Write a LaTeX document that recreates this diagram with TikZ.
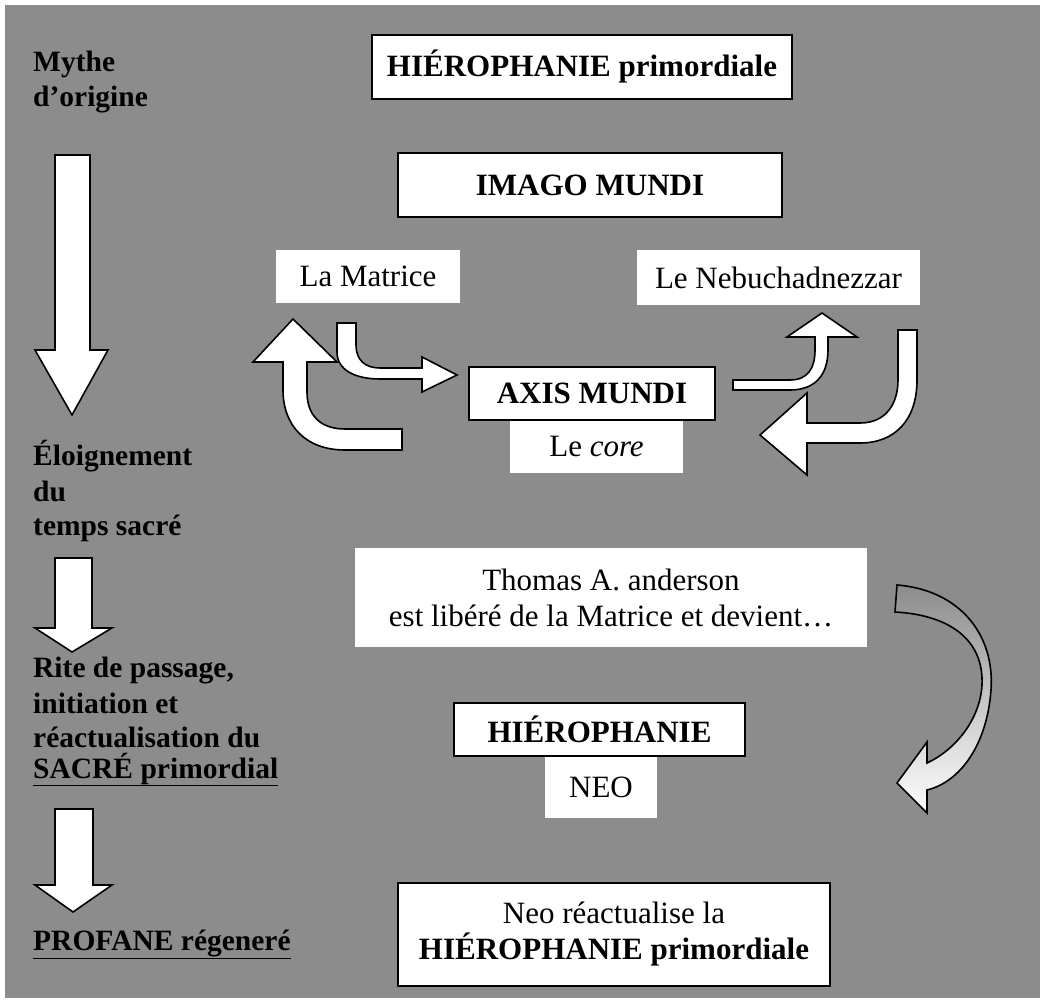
\documentclass[tikz,border=0pt]{standalone}
\usepackage{fontspec}
\setmainfont{Liberation Serif}
\definecolor{bggray}{gray}{0.55}
\tikzset{
  bx/.style={draw=black, line width=1.6pt, fill=white, inner sep=0pt, align=center},
  wbx/.style={fill=white, inner sep=0pt, align=center},
  big/.style={font=\fontsize{31}{36}\selectfont},
  lefttxt/.style={anchor=base west, inner sep=0pt, font=\fontsize{29.5}{35}\selectfont\bfseries},
  blockarrow/.style={fill=white, draw=black, line width=1.6pt, line join=miter},
}
\begin{document}
\begin{tikzpicture}[x=1pt,y=-1pt]
\useasboundingbox (0,0) rectangle (1045,1003);
\fill[white] (0,0) rectangle (1045,1003);
\fill[bggray] (5,5) rectangle (1040,998);

% left column
\node[lefttxt] (myth1) at (33,72) {Mythe};
\node[lefttxt] (myth2) at (33,107) {d’origine};
\path[blockarrow] (55,155) -- (90,155) -- (90,350) -- (108,350) -- (72,415) -- (35,350) -- (55,350) -- cycle;
\node[lefttxt] (eloi1) at (33,465) {Éloignement};
\node[lefttxt] (eloi2) at (33,501) {du};
\node[lefttxt] (eloi3) at (33,535) {temps sacré};
\path[blockarrow] (55,558) -- (92,558) -- (92,628) -- (112,628) -- (72,652) -- (35,628) -- (55,628) -- cycle;
\node[lefttxt] (rite1) at (33,677) {Rite de passage,};
\node[lefttxt] (rite2) at (33,713) {initiation et};
\node[lefttxt] (rite3) at (33,747) {réactualisation du};
\node[lefttxt] (rite4) at (33,778) {\underline{SACRÉ primordial}};
\path[blockarrow] (55,809) -- (93,809) -- (93,885) -- (112,885) -- (73,912) -- (35,885) -- (55,885) -- cycle;
\node[lefttxt] (prof) at (33,950) {\underline{PROFANE régeneré}};

% white label boxes
\node[wbx, big, minimum width=184pt, minimum height=53pt] (matrice) at (368,276.5) {La Matrice};
\node[wbx, big, minimum width=283pt, minimum height=55pt] (nebu) at (778.5,277.5) {Le Nebuchadnezzar};
\node[wbx, big, minimum width=173pt, minimum height=53pt] (core) at (596.5,446.5) {Le \textit{core}};
\node[wbx, big, minimum width=512pt, minimum height=99pt] (thomas) at (611,597.5) {Thomas A. anderson\\est libéré de la Matrice et devient…};
\node[wbx, big, minimum width=112pt, minimum height=62pt] (neo) at (601,787) {NEO};

% bordered boxes
\node[bx, big, minimum width=420pt, minimum height=64pt] (hiero1) at (582,67) {\textbf{HIÉROPHANIE primordiale}};
\node[bx, big, minimum width=384pt, minimum height=64pt] (imago) at (590,185) {\textbf{IMAGO MUNDI}};
\node[bx, big, minimum width=246pt, minimum height=53pt] (axis) at (592,393.5) {\textbf{AXIS MUNDI}};
\node[bx, big, minimum width=291pt, minimum height=53pt] (hiero2) at (599.5,729.5) {\textbf{HIÉROPHANIE}};
\node[bx, big, minimum width=432pt, minimum height=103pt] (final) at (614,934.5) {Neo réactualise la\\\textbf{HIÉROPHANIE primordiale}};

% curved block arrows around AXIS MUNDI
% arrow up-left toward La Matrice
\path[blockarrow] (402,450) -- (345,450) .. controls (305,450) and (283,425) .. (283,390) -- (283,362)
  -- (253,362) -- (293,319) -- (337,362) -- (307,362) -- (307,392)
  .. controls (307,415) and (320,429) .. (345,429) -- (402,429) -- cycle;
% arrow from La Matrice to AXIS MUNDI
\path[blockarrow] (337,323) -- (337,352) .. controls (337,370) and (355,379) .. (380,379) -- (422,379)
  -- (422,392) -- (457,375) -- (422,357) -- (422,368) -- (380,368)
  .. controls (365,368) and (356,360) .. (356,345) -- (356,323) -- cycle;
% arrow from AXIS MUNDI up to Nebuchadnezzar
\path[blockarrow] (733,380) -- (790,380) .. controls (808,380) and (815,368) .. (815,350) -- (815,337)
  -- (787,337) -- (822,313) -- (857,337) -- (828,337) -- (828,350)
  .. controls (828,375) and (815,390) .. (790,390) -- (733,390) -- cycle;
% arrow from Nebuchadnezzar down to AXIS MUNDI
\path[blockarrow] (917,330) -- (917,380) .. controls (917,420) and (895,443) .. (860,443) -- (807,443)
  -- (807,475) -- (760,435) -- (807,393) -- (807,423) -- (860,423)
  .. controls (885,423) and (898,405) .. (898,380) -- (898,330) -- cycle;

% big curved arrow from Thomas to HIEROPHANIE
\path[draw=black, line width=1.6pt, line join=miter, top color=black!45, bottom color=white]
  (897,585) .. controls (960,590) and (995,635) .. (991,690)
  .. controls (987,745) and (960,782) .. (927,790) -- (927,813) -- (897,783) -- (927,742) -- (927,763)
  .. controls (955,750) and (980,720) .. (982,685)
  .. controls (984,640) and (950,615) .. (895,612) -- cycle;
\end{tikzpicture}
\end{document}
